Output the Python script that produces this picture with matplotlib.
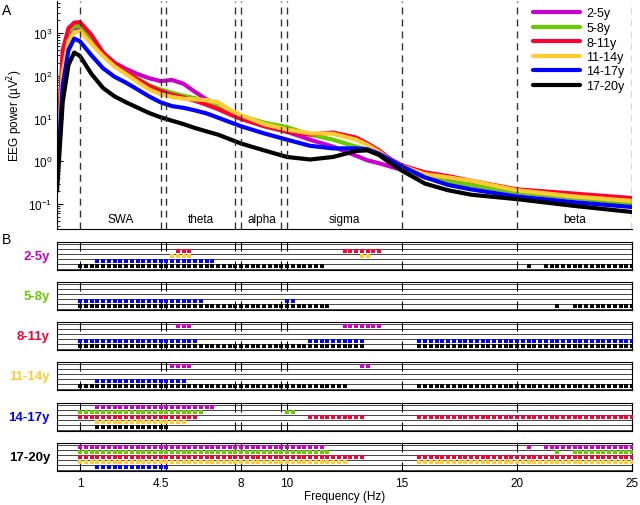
import numpy as np
import matplotlib.pyplot as plt
from matplotlib.transforms import blended_transform_factory

plt.rcParams['font.family'] = ['Liberation Sans', 'DejaVu Sans']
plt.rcParams['font.size'] = 8.5

# ---- panel A data: EEG power spectra (uV^2) ----
FREQ = [0, 0.25, 0.5, 0.75, 1, 1.5, 2, 2.5, 3, 3.5, 4, 4.5, 5, 5.5, 6, 6.5, 7, 7.5,
        8, 9, 10, 11, 12, 13, 13.5, 14, 14.5, 15, 16, 17, 18, 20, 22.5, 25]
P_2_5 = [1.0, 250, 900, 1200, 1200, 650, 320, 200, 145, 110, 88, 75, 80, 65, 42, 28, 20, 14.5,
         10.5, 7.0, 4.9, 3.2, 2.2, 1.35, 1.05, 0.9, 0.75, 0.63, 0.42, 0.35, 0.28, 0.19, 0.14, 0.11]
P_5_8 = [0.7, 300, 1100, 1450, 1450, 800, 320, 190, 125, 85, 60, 48, 40, 34, 30, 24, 19, 14.5,
         11.5, 8.0, 6.3, 4.2, 3.2, 2.2, 1.9, 1.5, 1.0, 0.7, 0.42, 0.33, 0.28, 0.19, 0.14, 0.10]
P_8_11 = [0.8, 400, 1300, 1750, 1800, 900, 350, 200, 125, 83, 58, 44, 36, 31, 26, 21, 16.6, 12.6,
          9.8, 6.6, 4.9, 4.2, 4.7, 3.6, 2.6, 1.8, 1.12, 0.8, 0.55, 0.45, 0.35, 0.22, 0.175, 0.138]
P_11_14 = [0.6, 120, 650, 1050, 1100, 560, 290, 165, 110, 72, 48, 37, 32, 29, 28, 27, 24, 16,
           12, 7.4, 5.5, 4.5, 4.4, 3.2, 2.4, 1.66, 1.05, 0.76, 0.5, 0.42, 0.35, 0.21, 0.15, 0.118]
P_14_17 = [0.4, 60, 400, 740, 640, 300, 150, 95, 69, 48, 33, 24, 19.5, 17.8, 15.5, 13.2, 10.5, 8.3,
           6.6, 4.5, 3.2, 2.3, 2.0, 2.0, 1.9, 1.5, 1.07, 0.76, 0.42, 0.28, 0.22, 0.15, 0.11, 0.085]
P_17_20 = [0.2, 25, 180, 350, 290, 110, 52, 33, 24, 18, 13.5, 10.7, 8.9, 7.4, 6.0, 5.0, 4.2, 3.3,
           2.6, 1.8, 1.26, 1.1, 1.26, 1.74, 1.8, 1.4, 0.9, 0.6, 0.3, 0.21, 0.165, 0.13, 0.09, 0.065]

GROUPS = ['2-5y', '5-8y', '8-11y', '11-14y', '14-17y', '17-20y']
COLORS = ['#CC00CC', '#66CC00', '#FF0033', '#FFCC33', '#0000FF', '#000000']
SPECTRA = [P_2_5, P_5_8, P_8_11, P_11_14, P_14_17, P_17_20]

BAND_EDGES = [1, 4.5, 4.75, 7.75, 8, 9.75, 10, 15, 20, 25]
BAND_NAMES = ['SWA', 'theta', 'alpha', 'sigma', 'beta']
BAND_CENTERS = [2.75, 6.25, 8.9, 12.5, 22.5]

# ---- panel B data: significant 0.25 Hz bins per pair of age groups (start, stop) ----
SIG = {
    (0, 1): [],
    (0, 2): [(5.25, 5.75), (12.5, 14.0)],
    (0, 3): [(5.0, 5.75), (13.25, 13.5)],
    (0, 4): [(1.75, 6.75)],
    (0, 5): [(1.0, 11.5), (20.5, 20.5), (21.25, 25)],
    (1, 2): [],
    (1, 3): [],
    (1, 4): [(1.0, 6.25), (10.0, 10.25)],
    (1, 5): [(1.0, 11.75), (21.75, 21.75), (22.5, 25)],
    (2, 3): [],
    (2, 4): [(1.0, 6.0), (11.0, 13.25), (15.75, 25)],
    (2, 5): [(1.0, 13.25), (15.75, 25)],
    (3, 4): [(1.75, 5.5)],
    (3, 5): [(1.0, 12.5), (15.75, 25)],
    (4, 5): [(1.75, 4.75)],
}
TICKS = [1, 4.5, 4.75, 7.75, 8, 9.75, 10, 15, 20, 25]
TICK_LABELS = ['1', '4.5', '', '', '8', '', '10', '15', '20', '25']

W, H = 640, 506
fig = plt.figure(figsize=(W / 100, H / 100), dpi=100)

# ---------------- panel A ----------------
ax = fig.add_axes([57 / W, 1 - 230 / H, 575 / W, 228 / H])
for name, col, p in zip(GROUPS, COLORS, SPECTRA):
    ax.plot(FREQ, p, color=col, lw=3, label=name, solid_capstyle='round',
            solid_joinstyle='round', zorder=2)
for e in BAND_EDGES:
    ax.axvline(e, color='#333333', lw=1, ls=(0, (5, 3.6)), zorder=3)
ax.set_yscale('log')
ax.set_xlim(0, 25)
ax.set_ylim(10 ** -1.585, 10 ** 3.75)
ax.set_xticks([])
ax.spines['top'].set_visible(False)
ax.spines['right'].set_visible(False)
ax.tick_params(axis='y', which='both', direction='in')
ax.tick_params(axis='y', which='major', length=4)
ax.tick_params(axis='y', which='minor', length=2)
ax.set_ylabel('EEG power (µV$^2$)', labelpad=2)
tr = blended_transform_factory(ax.transData, ax.transAxes)
for name, c in zip(BAND_NAMES, BAND_CENTERS):
    ax.text(c, 0.044, name, transform=tr, ha='center', va='center')
ax.legend(loc='upper left', bbox_to_anchor=(530 / W, 1 - 6 / H), bbox_transform=fig.transFigure,
          frameon=False, handlelength=3.8, handletextpad=0.5, labelspacing=0.2,
          borderaxespad=0, borderpad=0.2, fontsize=9)

fig.text(2 / W, 1 - 11 / H, 'A', fontsize=10, va='center')
fig.text(2 / W, 1 - 240 / H, 'B', fontsize=10, va='center')

# ---------------- panel B ----------------
tops = [243, 283, 323, 363, 404, 444]
for i, top in enumerate(tops):
    bx = fig.add_axes([57 / W, 1 - (top + 28) / H, 575 / W, 28 / H])
    bx.set_xlim(0, 25)
    bx.set_ylim(5.8, 0.2)
    for y in [0.5, 1.5, 2.5, 3.5, 4.5, 5.5]:
        bx.axhline(y, color='#444444', lw=0.7, zorder=1)
    others = [j for j in range(6) if j != i]
    for row, j in enumerate(others, start=1):
        for a, b in SIG[(min(i, j), max(i, j))]:
            bins = np.arange(a, b + 0.125, 0.25)
            bx.plot(bins, np.full(len(bins), row), ls='none', marker='s', ms=2.6,
                    mew=0, color=COLORS[j], zorder=3)
    bx.set_yticks([])
    bx.set_xticks(TICKS)
    bx.tick_params(axis='x', direction='in', length=6.5, top=True, bottom=True, width=0.8,
                   labelbottom=(i == 5), pad=4)
    if i == 5:
        bx.set_xticklabels(TICK_LABELS)
        bx.set_xlabel('Frequency (Hz)', labelpad=1)
    fig.text(50 / W, 1 - (top + 14) / H, GROUPS[i], color=COLORS[i], fontsize=9.5,
             fontweight='bold', ha='right', va='center')

fig.savefig('out.png', dpi=100)
